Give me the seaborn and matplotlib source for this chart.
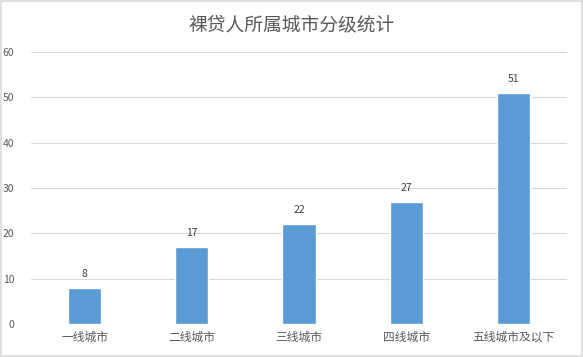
import matplotlib
matplotlib.use('Agg')
import matplotlib.pyplot as plt
import seaborn as sns
import pandas as pd

# data
categories = ['一线城市', '二线城市', '三线城市', '四线城市', '五线城市及以下']
counts = [8, 17, 22, 27, 51]
y_ticks = [0, 10, 20, 30, 40, 50, 60]
title = '裸贷人所属城市分级统计'

df = pd.DataFrame({'city': categories, 'count': counts})

sns.set_theme(style='white')
plt.rcParams['font.family'] = ['Noto Sans CJK SC', 'DejaVu Sans']

text_color = '#595959'
grid_color = '#D9D9D9'

fig = plt.figure(figsize=(5.83, 3.57), dpi=100)
ax = fig.add_axes([0.053, 0.0924, 0.9196, 0.7616])

sns.barplot(data=df, x='city', y='count', color='#5B9BD5', width=0.31,
            saturation=1, ax=ax, zorder=3)

for i, v in enumerate(counts):
    ax.text(i, v + 2.0, str(v), ha='center', va='bottom',
            fontsize=7.5, color='#404040')

ax.set_ylim(0, 60)
ax.set_yticks(y_ticks)
ax.set_yticklabels([str(t) for t in y_ticks], fontsize=7.5, color=text_color)
ax.tick_params(axis='x', labelsize=8.5, colors=text_color, length=0, pad=5)
ax.tick_params(axis='y', length=0, pad=12)
ax.set_xlabel('')
ax.set_ylabel('')
ax.yaxis.grid(True, color=grid_color, linewidth=0.8, zorder=0)
for s in ax.spines.values():
    s.set_visible(False)
ax.set_xlim(-0.5, len(categories) - 0.5)

fig.suptitle(title, y=0.96, fontsize=13.5, color=text_color)

# thin border around the whole chart
fig.patches.append(plt.Rectangle((0.002, 0.003), 0.996, 0.994, transform=fig.transFigure,
                                 fill=False, edgecolor=grid_color, linewidth=1.2))

fig.savefig('out.png', dpi=100)
